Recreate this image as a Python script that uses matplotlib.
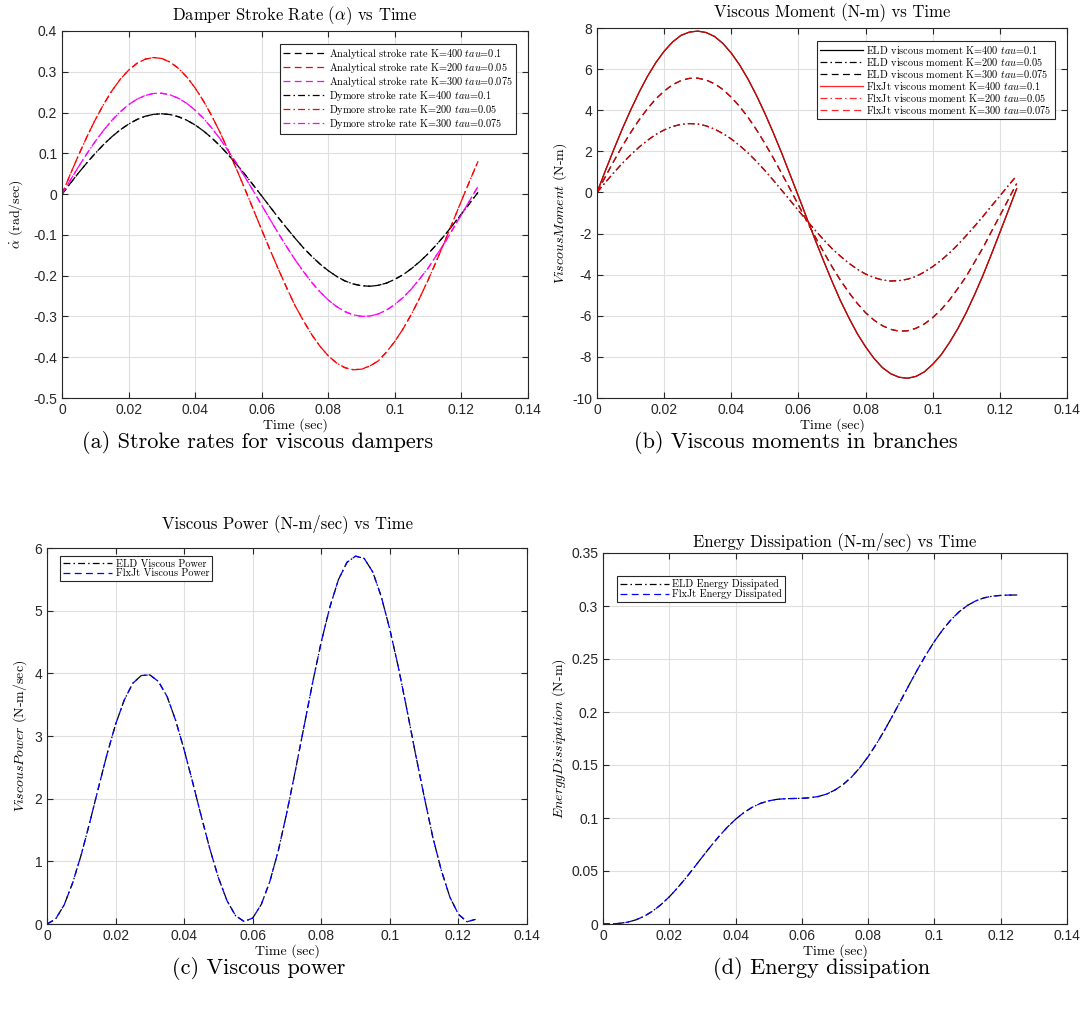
import matplotlib
matplotlib.use("Agg")
import matplotlib.pyplot as plt

plt.rcParams["mathtext.fontset"] = "cm"
plt.rcParams["axes.unicode_minus"] = False
plt.rcParams["font.family"] = ["Liberation Sans", "DejaVu Sans"]
plt.rcParams["lines.dashed_pattern"] = [5.5, 3.5]
plt.rcParams["lines.dashdot_pattern"] = [5.5, 2.5, 1.2, 2.5]

# time samples (sec)
t = [0.0000, 0.0025, 0.0050, 0.0075, 0.0100, 0.0125, 0.0150, 0.0175, 0.0200, 0.0225,
     0.0250, 0.0275, 0.0300, 0.0325, 0.0350, 0.0375, 0.0400, 0.0425, 0.0450, 0.0475,
     0.0500, 0.0525, 0.0550, 0.0575, 0.0600, 0.0625, 0.0650, 0.0675, 0.0700, 0.0725,
     0.0750, 0.0775, 0.0800, 0.0825, 0.0850, 0.0875, 0.0900, 0.0925, 0.0950, 0.0975,
     0.1000, 0.1025, 0.1050, 0.1075, 0.1100, 0.1125, 0.1150, 0.1175, 0.1200, 0.1225,
     0.1250]

# (a) stroke rates [rad/sec]
rate_k400 = [0.0, 0.0264, 0.0522, 0.0769, 0.1001, 0.1216, 0.1409, 0.1577, 0.1717, 0.1829,
             0.1909, 0.1956, 0.1970, 0.1950, 0.1897, 0.1812, 0.1696, 0.1549, 0.1378, 0.1181,
             0.0962, 0.0727, 0.0479, 0.0218, -0.0045, -0.0312, -0.0577, -0.0832, -0.1079, -0.1315,
             -0.1523, -0.1714, -0.1878, -0.2017, -0.2130, -0.2204, -0.2247, -0.2260, -0.2237, -0.2182,
             -0.2089, -0.1975, -0.1826, -0.1654, -0.1461, -0.1241, -0.1005, -0.0749, -0.0488, -0.0223,
             0.0044]
rate_k200 = [0.0, 0.0488, 0.0960, 0.1409, 0.1824, 0.2201, 0.2534, 0.2815, 0.3039, 0.3206,
             0.3310, 0.3350, 0.3325, 0.3236, 0.3083, 0.2872, 0.2603, 0.2283, 0.1917, 0.1509,
             0.1060, 0.0600, 0.0114, -0.0380, -0.0877, -0.1368, -0.1839, -0.2296, -0.2733, -0.3102,
             -0.3442, -0.3732, -0.3966, -0.4143, -0.4257, -0.4307, -0.4293, -0.4215, -0.4092, -0.3872,
             -0.3612, -0.3300, -0.2941, -0.2539, -0.2104, -0.1640, -0.1156, -0.0662, -0.0165, 0.0327,
             0.0806]
rate_k300 = [0.0, 0.0343, 0.0677, 0.0995, 0.1293, 0.1566, 0.1810, 0.2020, 0.2193, 0.2327,
             0.2419, 0.2468, 0.2473, 0.2433, 0.2350, 0.2225, 0.2059, 0.1858, 0.1620, 0.1354,
             0.1055, 0.0746, 0.0415, 0.0074, -0.0273, -0.0620, -0.0961, -0.1291, -0.1606, -0.1896,
             -0.2162, -0.2396, -0.2598, -0.2758, -0.2881, -0.2961, -0.2998, -0.2990, -0.2939, -0.2843,
             -0.2707, -0.2532, -0.2323, -0.2074, -0.1813, -0.1500, -0.1190, -0.0846, -0.0502, -0.0154,
             0.0191]

# (b) viscous moments [N-m]
mom_k400 = [0.0, 1.06, 2.09, 3.08, 4.00, 4.86, 5.64, 6.31, 6.87, 7.32,
            7.64, 7.80, 7.85, 7.78, 7.59, 7.25, 6.78, 6.20, 5.51, 4.72,
            3.85, 2.91, 1.92, 0.87, -0.18, -1.25, -2.31, -3.33, -4.32, -5.26,
            -6.09, -6.86, -7.51, -8.07, -8.52, -8.82, -8.99, -9.04, -8.95, -8.73,
            -8.36, -7.90, -7.30, -6.62, -5.84, -4.96, -4.02, -3.00, -1.95, -0.89,
            0.18]
mom_k200 = [0.0, 0.49, 0.96, 1.41, 1.82, 2.20, 2.53, 2.82, 3.04, 3.21,
            3.31, 3.35, 3.33, 3.24, 3.08, 2.87, 2.60, 2.28, 1.92, 1.51,
            1.07, 0.60, 0.11, -0.38, -0.88, -1.37, -1.84, -2.30, -2.73, -3.10,
            -3.44, -3.73, -3.97, -4.14, -4.26, -4.31, -4.29, -4.22, -4.09, -3.87,
            -3.61, -3.30, -2.94, -2.54, -2.10, -1.64, -1.16, -0.66, -0.17, 0.33,
            0.81]
mom_k300 = [0.0, 0.77, 1.52, 2.24, 2.91, 3.52, 4.07, 4.55, 4.93, 5.24,
            5.44, 5.55, 5.56, 5.47, 5.29, 5.01, 4.63, 4.18, 3.65, 3.05,
            2.39, 1.68, 0.93, 0.17, -0.61, -1.40, -2.16, -2.90, -3.61, -4.27,
            -4.86, -5.39, -5.85, -6.21, -6.48, -6.66, -6.75, -6.73, -6.61, -6.40,
            -6.09, -5.70, -5.23, -4.67, -4.08, -3.38, -2.68, -1.90, -1.13, -0.35,
            0.43]

# (c) viscous power [N-m/sec]
power = [0.0, 0.078, 0.304, 0.659, 1.108, 1.626, 2.173, 2.708, 3.185, 3.570,
         3.840, 3.965, 3.975, 3.870, 3.633, 3.253, 2.780, 2.258, 1.718, 1.198,
         0.738, 0.373, 0.132, 0.040, 0.095, 0.313, 0.679, 1.179, 1.792, 2.464,
         3.163, 3.859, 4.504, 5.056, 5.495, 5.772, 5.870, 5.834, 5.619, 5.223,
         4.699, 4.092, 3.413, 2.709, 2.035, 1.392, 0.857, 0.430, 0.155, 0.036,
         0.074]

# (d) energy dissipated [N-m]
energy = [0.0, 0.0001, 0.0006, 0.0018, 0.0040, 0.0074, 0.0122, 0.0183, 0.0256, 0.0341,
          0.0434, 0.0533, 0.0634, 0.0733, 0.0827, 0.0913, 0.0988, 0.1051, 0.1101, 0.1138,
          0.1162, 0.1176, 0.1182, 0.1184, 0.1186, 0.1191, 0.1203, 0.1226, 0.1264, 0.1317,
          0.1387, 0.1475, 0.1579, 0.1699, 0.1831, 0.1972, 0.2117, 0.2264, 0.2407, 0.2542,
          0.2666, 0.2776, 0.2870, 0.2947, 0.3006, 0.3049, 0.3077, 0.3093, 0.3100, 0.3103,
          0.3104]

W, H = 1087, 1016
fig = plt.figure(figsize=(W / 100, H / 100), dpi=100)

def px_axes(l, r, top, bot):
    return fig.add_axes([l / W, 1 - bot / H, (r - l) / W, (bot - top) / H])

ax_a = px_axes(62, 528, 31, 398)
ax_b = px_axes(597, 1067, 28, 398)
ax_c = px_axes(47, 527, 548, 924)
ax_d = px_axes(603, 1067, 553, 924)

serif = "cmr10"
for ax in [ax_a, ax_b, ax_c, ax_d]:
    ax.grid(True, color="#dfdfdf", linewidth=0.8)
    ax.set_axisbelow(True)
    ax.tick_params(direction="in", top=True, right=True, length=4, labelsize=10,
                   colors="#262626", width=0.8)
    for s in ax.spines.values():
        s.set_color("#262626")
        s.set_linewidth(0.8)
    ax.set_xlim(0, 0.14)
    ax.set_xticks([0, 0.02, 0.04, 0.06, 0.08, 0.1, 0.12, 0.14])
    ax.set_xticklabels(["0", "0.02", "0.04", "0.06", "0.08", "0.1", "0.12", "0.14"])
    ax.set_xlabel("Time (sec)", fontfamily=serif, fontsize=10, labelpad=1)

lw = 0.9
# (a)
ax_a.plot(t, rate_k400, "--", color="k", lw=lw, label="Analytical stroke rate K=400 $tau$=0.1")
ax_a.plot(t, rate_k200, "--", color="r", lw=lw, label="Analytical stroke rate K=200 $tau$=0.05")
ax_a.plot(t, rate_k300, "--", color="magenta", lw=lw, label="Analytical stroke rate K=300 $tau$=0.075")
ax_a.plot(t, rate_k400, "-.", color="k", lw=lw, label="Dymore stroke rate K=400 $tau$=0.1")
ax_a.plot(t, rate_k200, "-.", color="r", lw=lw, label="Dymore stroke rate K=200 $tau$=0.05")
ax_a.plot(t, rate_k300, "-.", color="magenta", lw=lw, label="Dymore stroke rate K=300 $tau$=0.075")
ax_a.set_ylim(-0.5, 0.4)
ax_a.set_yticks([-0.5, -0.4, -0.3, -0.2, -0.1, 0, 0.1, 0.2, 0.3, 0.4])
ax_a.set_yticklabels(["-0.5", "-0.4", "-0.3", "-0.2", "-0.1", "0", "0.1", "0.2", "0.3", "0.4"])
ax_a.set_title(r"Damper Stroke Rate ($\alpha$) vs Time", fontfamily=serif, fontsize=12, pad=8)
ax_a.set_ylabel(r"$\dot{\alpha}$ (rad/sec)", fontfamily=serif, fontsize=10, labelpad=6)

# (b)
ax_b.plot(t, mom_k400, "-", color="k", lw=lw, label="ELD viscous moment K=400 $tau$=0.1")
ax_b.plot(t, mom_k200, "-.", color="k", lw=lw, label="ELD viscous moment K=200 $tau$=0.05")
ax_b.plot(t, mom_k300, "--", color="k", lw=lw, label="ELD viscous moment K=300 $tau$=0.075")
ax_b.plot(t, mom_k400, "-", color="r", lw=lw, alpha=0.85, label="FlxJt viscous moment K=400 $tau$=0.1")
ax_b.plot(t, mom_k200, "-.", color="r", lw=lw, alpha=0.85, label="FlxJt viscous moment K=200 $tau$=0.05")
ax_b.plot(t, mom_k300, "--", color="r", lw=lw, alpha=0.85, label="FlxJt viscous moment K=300 $tau$=0.075")
ax_b.set_ylim(-10, 8)
ax_b.set_yticks(range(-10, 9, 2))
ax_b.set_title("Viscous Moment (N-m) vs Time", fontfamily=serif, fontsize=12, pad=8)
ax_b.set_ylabel("$ViscousMoment$ (N-m)", fontfamily=serif, fontsize=10, labelpad=2)

# (c)
ax_c.plot(t, power, "-.", color="k", lw=lw, label="ELD Viscous Power")
ax_c.plot(t, power, "--", color="b", lw=lw, label="FlxJt Viscous Power")
ax_c.set_ylim(0, 6)
ax_c.set_yticks(range(0, 7))
ax_c.set_title("Viscous Power (N-m/sec) vs Time", fontfamily=serif, fontsize=12, pad=14)
ax_c.set_ylabel("$ViscousPower$ (N-m/sec)", fontfamily=serif, fontsize=10, labelpad=4)

# (d)
ax_d.plot(t, energy, "-.", color="k", lw=lw, label="ELD Energy Dissipated")
ax_d.plot(t, energy, "--", color="b", lw=lw, label="FlxJt Energy Dissipated")
ax_d.set_ylim(0, 0.35)
ax_d.set_yticks([0, 0.05, 0.1, 0.15, 0.2, 0.25, 0.3, 0.35])
ax_d.set_yticklabels(["0", "0.05", "0.1", "0.15", "0.2", "0.25", "0.3", "0.35"])
ax_d.set_title("Energy Dissipation (N-m/sec) vs Time", fontfamily=serif, fontsize=12, pad=5)
ax_d.set_ylabel("$EnergyDissipation$ (N-m)", fontfamily=serif, fontsize=10, labelpad=2)

def legend_px(ax, x, y, hl):
    leg = ax.legend(loc="upper left", bbox_to_anchor=(x / W, 1 - y / H),
                    bbox_transform=fig.transFigure, prop={"family": serif, "size": 7.4},
                    fancybox=False, edgecolor="#262626", framealpha=1, borderpad=0.3,
                    labelspacing=0.0, handlelength=hl, handletextpad=0.3, borderaxespad=0)
    leg.get_frame().set_linewidth(0.8)

legend_px(ax_a, 280, 44, 4.2)
legend_px(ax_b, 817, 41, 4.2)
legend_px(ax_c, 60, 556, 4.8)
legend_px(ax_d, 617, 576, 4.8)

cap = dict(fontfamily=serif, fontsize=16, ha="center", va="center")
fig.text(258 / W, 1 - 443 / H, "(a) Stroke rates for viscous dampers", **cap)
fig.text(796 / W, 1 - 443 / H, "(b) Viscous moments in branches", **cap)
fig.text(259 / W, 1 - 968 / H, "(c) Viscous power", **cap)
fig.text(822 / W, 1 - 968 / H, "(d) Energy dissipation", **cap)

fig.savefig("out.png", dpi=100)
